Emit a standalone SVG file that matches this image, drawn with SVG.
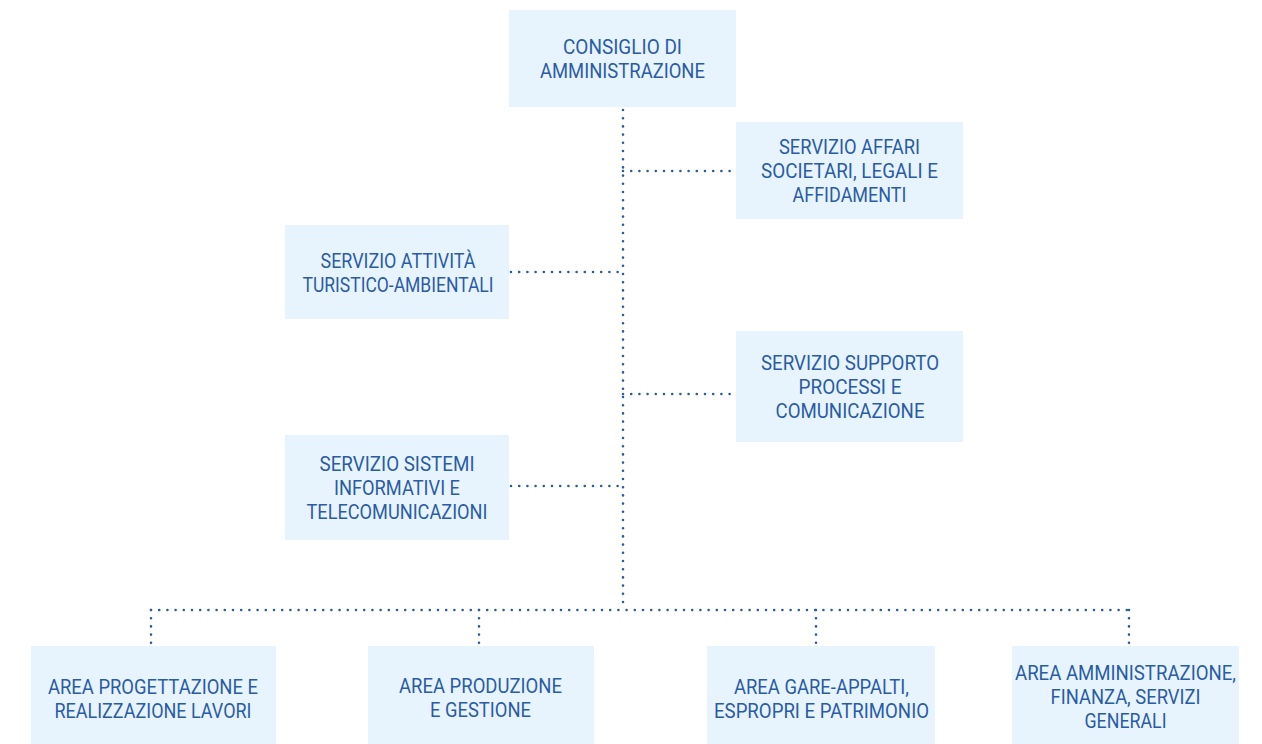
<svg xmlns="http://www.w3.org/2000/svg" width="1262" height="744" viewBox="0 0 1262 744">
<style>
.box{fill:#e8f4fd;}
.t{font-family:Roboto,"Liberation Sans",sans-serif;font-size:20px;fill:#2a5ca6;text-anchor:middle;}
.c{fill:none;stroke:#2a5a9f;stroke-width:2.6;stroke-linecap:round;stroke-dasharray:0 8.2;}
</style>
<rect width="1262" height="744" fill="#ffffff"/>
<g id="connectors">
<path class="c" d="M623 110 V608"/>
<path class="c" d="M623 171 H734"/>
<path class="c" d="M511 272 H623"/>
<path class="c" d="M623 394 H734"/>
<path class="c" d="M511 486 H623"/>
<path class="c" d="M151 610 H1129"/>
<path class="c" d="M151 610 V645"/>
<path class="c" d="M479 610 V645"/>
<path class="c" d="M816 610 V645"/>
<path class="c" d="M1129 610 V645"/>
</g>
<g id="consiglio">
<rect class="box" x="509" y="10" width="227" height="97"/>
<text class="t" x="622.5" y="54" textLength="119" lengthAdjust="spacingAndGlyphs">CONSIGLIO DI</text>
<text class="t" x="622.5" y="78" textLength="165" lengthAdjust="spacingAndGlyphs">AMMINISTRAZIONE</text>
</g>
<g id="affari">
<rect class="box" x="736" y="122" width="227" height="97"/>
<text class="t" x="849.5" y="154" textLength="141" lengthAdjust="spacingAndGlyphs">SERVIZIO AFFARI</text>
<text class="t" x="849.5" y="178" textLength="177" lengthAdjust="spacingAndGlyphs">SOCIETARI, LEGALI E</text>
<text class="t" x="849.5" y="202" textLength="114" lengthAdjust="spacingAndGlyphs">AFFIDAMENTI</text>
</g>
<g id="attivita">
<rect class="box" x="285" y="225" width="224" height="94"/>
<text class="t" x="398" y="268" textLength="155" lengthAdjust="spacingAndGlyphs">SERVIZIO ATTIVITÀ</text>
<text class="t" x="398" y="292" textLength="191" lengthAdjust="spacingAndGlyphs">TURISTICO-AMBIENTALI</text>
</g>
<g id="supporto">
<rect class="box" x="736" y="331" width="227" height="111"/>
<text class="t" x="850" y="370" textLength="178" lengthAdjust="spacingAndGlyphs">SERVIZIO SUPPORTO</text>
<text class="t" x="850" y="394" textLength="103" lengthAdjust="spacingAndGlyphs">PROCESSI E</text>
<text class="t" x="850" y="418" textLength="149" lengthAdjust="spacingAndGlyphs">COMUNICAZIONE</text>
</g>
<g id="sistemi">
<rect class="box" x="285" y="435" width="224" height="105"/>
<text class="t" x="397" y="471" textLength="155" lengthAdjust="spacingAndGlyphs">SERVIZIO SISTEMI</text>
<text class="t" x="397" y="495" textLength="126" lengthAdjust="spacingAndGlyphs">INFORMATIVI E</text>
<text class="t" x="397" y="519" textLength="181" lengthAdjust="spacingAndGlyphs">TELECOMUNICAZIONI</text>
</g>
<g id="area-progettazione">
<rect class="box" x="31" y="646" width="245" height="98"/>
<text class="t" x="153" y="694" textLength="210" lengthAdjust="spacingAndGlyphs">AREA PROGETTAZIONE E</text>
<text class="t" x="153" y="718" textLength="197" lengthAdjust="spacingAndGlyphs">REALIZZAZIONE LAVORI</text>
</g>
<g id="area-produzione">
<rect class="box" x="368" y="646" width="226" height="98"/>
<text class="t" x="480.5" y="693" textLength="163" lengthAdjust="spacingAndGlyphs">AREA PRODUZIONE</text>
<text class="t" x="480.5" y="717" textLength="101" lengthAdjust="spacingAndGlyphs">E GESTIONE</text>
</g>
<g id="area-gare">
<rect class="box" x="707" y="646" width="228" height="98"/>
<text class="t" x="821.5" y="694" textLength="175" lengthAdjust="spacingAndGlyphs">AREA GARE-APPALTI,</text>
<text class="t" x="821.5" y="718" textLength="215" lengthAdjust="spacingAndGlyphs">ESPROPRI E PATRIMONIO</text>
</g>
<g id="area-amministrazione">
<rect class="box" x="1012" y="646" width="227" height="98"/>
<text class="t" x="1125.5" y="680" textLength="221" lengthAdjust="spacingAndGlyphs">AREA AMMINISTRAZIONE,</text>
<text class="t" x="1125.5" y="704" textLength="150" lengthAdjust="spacingAndGlyphs">FINANZA, SERVIZI</text>
<text class="t" x="1125.5" y="728" textLength="82" lengthAdjust="spacingAndGlyphs">GENERALI</text>
</g>
</svg>
